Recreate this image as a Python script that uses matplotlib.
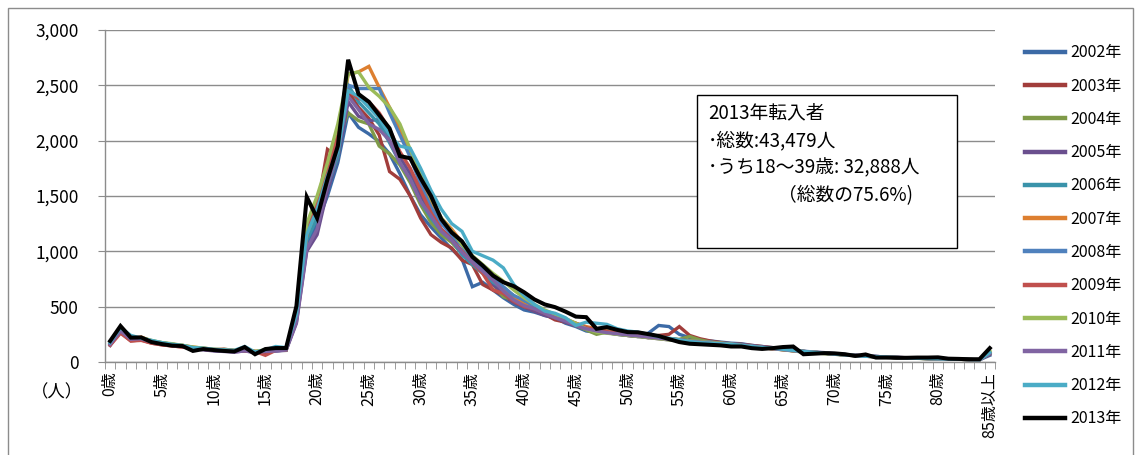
import matplotlib
matplotlib.use('Agg')
import matplotlib.pyplot as plt
from matplotlib.patches import Rectangle

plt.rcParams['font.family'] = ['Noto Sans CJK JP', 'DejaVu Sans']

# Age 0..84 plus "85 and over"
ages = list(range(86))
tick_pos = list(range(0, 86, 5))
tick_labels = [f'{a}歳' for a in range(0, 85, 5)] + ['85歳以上']

years = ['2002年', '2003年', '2004年', '2005年', '2006年', '2007年',
         '2008年', '2009年', '2010年', '2011年', '2012年', '2013年']
colors = ['#3c6aa6', '#a13d3b', '#7f9a48', '#6a4f8e', '#3a93aa', '#dd7f30',
          '#4f81bd', '#c0504d', '#9bbb59', '#8064a2', '#4bacc6', '#000000']

v2002 = [150, 290, 200, 210, 175, 160, 150, 140, 120, 115, 105, 100, 95, 110, 90, 95, 100, 110,
         380, 1050, 1250, 1500, 1800, 2250, 2120, 2060, 1990, 1880, 1700, 1500,
         1330, 1220, 1120, 1020, 930, 680, 720, 650, 580, 520, 470, 450, 420, 400, 350,
         320, 280, 270, 265, 250, 240, 230, 260, 330, 320, 250, 220, 200, 190, 180,
         170, 165, 150, 140, 130, 125, 110, 90, 85, 80, 70, 65, 60, 55, 50,
         45, 40, 38, 35, 33, 30, 28, 25, 22, 20, 60]
v2003 = [160, 270, 190, 200, 170, 155, 145, 135, 130, 115, 105, 110, 100, 100, 95, 80, 110, 110,
         400, 1200, 1380, 1920, 1850, 2450, 2300, 2200, 2050, 1720, 1650, 1500,
         1300, 1150, 1080, 1030, 920, 880, 700, 650, 600, 540, 500, 460, 430, 380, 360,
         330, 300, 280, 270, 255, 240, 235, 220, 240, 250, 320, 240, 210, 190, 175,
         165, 160, 150, 140, 130, 120, 110, 95, 85, 80, 72, 65, 60, 55, 50,
         45, 42, 38, 35, 32, 30, 28, 25, 22, 20, 70]
v2004 = [170, 280, 210, 220, 190, 175, 160, 150, 130, 125, 110, 115, 105, 100, 95, 100, 105, 105,
         390, 1150, 1350, 1700, 2000, 2250, 2180, 2150, 1950, 1880, 1780, 1620,
         1420, 1260, 1150, 1080, 980, 900, 820, 700, 590, 560, 520, 480, 440, 400, 370,
         330, 290, 250, 270, 260, 250, 235, 225, 215, 210, 205, 230, 200, 180, 170,
         160, 150, 140, 130, 120, 110, 100, 90, 85, 75, 70, 62, 58, 52, 48,
         44, 40, 36, 33, 30, 28, 26, 24, 22, 20, 90]
v2005 = [155, 275, 205, 215, 180, 165, 150, 140, 120, 110, 100, 95, 90, 100, 85, 95, 100, 105,
         350, 1000, 1150, 1550, 1850, 2350, 2220, 2180, 2190, 2000, 1850, 1700,
         1500, 1350, 1200, 1120, 1000, 920, 850, 700, 620, 540, 500, 460, 420, 400, 360,
         330, 300, 280, 265, 250, 240, 230, 220, 210, 200, 195, 190, 180, 175, 170,
         160, 155, 145, 135, 125, 115, 105, 95, 90, 85, 75, 68, 60, 55, 50,
         45, 42, 38, 35, 32, 30, 28, 25, 22, 20, 80]
v2006 = [165, 285, 215, 205, 185, 165, 155, 145, 125, 120, 110, 105, 100, 120, 90, 100, 115, 110,
         420, 1100, 1300, 1600, 1850, 2500, 2350, 2250, 2150, 1980, 1800, 1650,
         1450, 1300, 1180, 1100, 970, 880, 800, 720, 660, 600, 530, 490, 450, 420, 380,
         340, 310, 290, 280, 260, 245, 235, 225, 215, 210, 200, 190, 180, 170, 165,
         155, 150, 140, 130, 125, 115, 105, 95, 85, 80, 72, 65, 58, 52, 48,
         44, 40, 37, 34, 31, 29, 27, 25, 22, 20, 75]
v2007 = [175, 290, 210, 225, 190, 170, 160, 150, 135, 125, 115, 110, 100, 110, 95, 105, 110, 110,
         440, 1150, 1400, 1700, 2000, 2600, 2620, 2670, 2480, 2300, 2100, 1900,
         1650, 1450, 1300, 1200, 1080, 950, 850, 760, 650, 580, 520, 490, 460, 420, 390,
         350, 320, 300, 280, 270, 255, 240, 225, 215, 205, 195, 180, 170, 165, 160,
         150, 145, 135, 128, 120, 112, 102, 95, 88, 80, 72, 65, 58, 52, 48,
         44, 40, 37, 34, 31, 29, 27, 25, 22, 20, 80]
v2008 = [170, 300, 220, 215, 185, 170, 155, 145, 130, 120, 110, 105, 100, 115, 90, 100, 110, 115,
         450, 1200, 1400, 1700, 1950, 2500, 2470, 2470, 2470, 2250, 2050, 1850,
         1600, 1400, 1250, 1150, 1050, 920, 830, 750, 680, 600, 560, 500, 460, 420, 380,
         340, 300, 280, 270, 260, 250, 240, 230, 220, 210, 200, 190, 185, 180, 170,
         165, 155, 145, 135, 125, 118, 108, 98, 90, 82, 75, 68, 60, 55, 50,
         45, 42, 38, 35, 32, 30, 28, 25, 22, 20, 85]
v2009 = [150, 260, 190, 195, 170, 155, 145, 135, 120, 115, 110, 115, 105, 100, 95, 60, 105, 110,
         420, 1150, 1450, 1750, 2050, 2450, 2380, 2350, 2250, 2100, 1900, 1750,
         1550, 1350, 1200, 1100, 1000, 900, 800, 650, 620, 550, 500, 480, 440, 400, 380,
         350, 310, 290, 275, 260, 250, 240, 230, 220, 210, 200, 190, 180, 175, 170,
         160, 150, 140, 130, 120, 112, 102, 95, 88, 80, 72, 65, 58, 52, 48,
         44, 40, 37, 34, 31, 29, 27, 25, 22, 20, 80]
v2010 = [180, 295, 215, 220, 195, 175, 165, 150, 135, 125, 115, 110, 105, 115, 95, 110, 115, 120,
         460, 1250, 1500, 1800, 2150, 2600, 2620, 2480, 2400, 2300, 2150, 1920,
         1700, 1480, 1300, 1180, 1060, 960, 880, 800, 730, 650, 580, 520, 470, 430, 390,
         350, 300, 270, 260, 250, 240, 230, 220, 210, 200, 195, 190, 185, 175, 170,
         160, 150, 140, 130, 120, 112, 102, 95, 88, 80, 72, 65, 58, 52, 48,
         44, 40, 37, 34, 31, 29, 27, 25, 22, 20, 100]
v2011 = [160, 280, 205, 210, 180, 165, 150, 140, 120, 115, 105, 100, 90, 100, 88, 95, 100, 108,
         360, 1020, 1200, 1600, 1900, 2400, 2280, 2150, 2100, 2000, 1800, 1650,
         1450, 1320, 1180, 1100, 990, 900, 820, 740, 640, 560, 510, 480, 440, 400, 370,
         330, 300, 280, 265, 255, 245, 235, 225, 215, 205, 195, 185, 180, 170, 165,
         155, 150, 140, 130, 120, 112, 102, 95, 88, 80, 72, 65, 58, 52, 48,
         44, 40, 37, 34, 31, 29, 27, 25, 22, 20, 75]
v2012 = [175, 310, 240, 215, 195, 175, 160, 150, 130, 125, 115, 110, 105, 140, 90, 110, 140, 130,
         430, 1150, 1380, 1680, 1900, 2450, 2400, 2300, 2200, 2050, 1950, 1930,
         1750, 1550, 1380, 1250, 1180, 1000, 960, 920, 850, 700, 600, 520, 460, 440, 400,
         330, 360, 350, 340, 300, 280, 270, 250, 230, 215, 200, 185, 175, 170, 165,
         160, 150, 140, 130, 125, 115, 105, 95, 88, 80, 72, 65, 58, 52, 48,
         44, 40, 37, 34, 31, 29, 27, 25, 22, 20, 85]
v2013 = [190, 325, 220, 222, 180, 162, 148, 144, 100, 117, 108, 100, 95, 135, 70, 117, 126, 126,
         505, 1490, 1300, 1650, 1950, 2730, 2420, 2350, 2230, 2110, 1860, 1840,
         1660, 1500, 1290, 1170, 1090, 950, 870, 780, 720, 685, 630, 565, 520, 495, 455,
         410, 405, 300, 315, 290, 270, 268, 252, 235, 207, 180, 165, 160, 155, 150,
         140, 140, 125, 118, 125, 135, 140, 70, 75, 80, 78, 70, 55, 68, 40,
         40, 38, 38, 40, 40, 42, 30, 28, 25, 25, 125]

series = [v2002, v2003, v2004, v2005, v2006, v2007,
          v2008, v2009, v2010, v2011, v2012, v2013]

fig = plt.figure(figsize=(11.41, 4.55), dpi=100)
ax = fig.add_axes([0.092, 0.2044, 0.780, 0.730])

for name, vals, c in zip(years, series, colors):
    black = name == '2013年'
    ax.plot(ages, vals, color=c, lw=2.9 if black else 2.4, label=name,
            solid_joinstyle='miter', zorder=3 if black else 2)

ax.set_xlim(-0.5, 85.5)
ax.set_ylim(0, 3000)
ax.set_yticks(range(0, 3001, 500))
ax.set_yticklabels([f'{v:,}' for v in range(0, 3001, 500)], fontsize=12.5)
ax.yaxis.grid(True, color='#8c8c8c', lw=1.0)
ax.set_axisbelow(True)

ax.set_xticks(tick_pos)
ax.set_xticklabels(tick_labels, rotation=90, fontsize=11.5)
ax.set_xticks([i - 0.5 for i in range(87)], minor=True)
ax.tick_params(axis='x', which='major', length=0, pad=7)
ax.tick_params(axis='x', which='minor', length=5, color='#8c8c8c', direction='out')
ax.tick_params(axis='y', length=5, color='#8c8c8c', pad=14)

for s in ['top', 'right']:
    ax.spines[s].set_visible(False)
for s in ['left', 'bottom']:
    ax.spines[s].set_color('#8c8c8c')
    ax.spines[s].set_linewidth(1.0)

fig.text(0.050, 0.137, '（人）', fontsize=12.5, ha='center', va='center')

leg = ax.legend(loc='upper left', bbox_to_anchor=(1.018, 1.0), frameon=False,
                fontsize=11.5, handlelength=2.5, labelspacing=1.02, handletextpad=0.3)
for line in leg.get_lines():
    line.set_linewidth(3.2)

# summary box for 2013
box = Rectangle((697 / 1141, 1 - 248 / 455), 260 / 1141, 153 / 455,
                transform=fig.transFigure, facecolor='white', edgecolor='black',
                lw=1.0, zorder=5)
fig.patches.append(box)
lines = ['2013年転入者', '･総数:43,479人', '･うち18～39歳: 32,888人']
for k, t in enumerate(lines):
    fig.text(708 / 1141, 1 - (113 + 27.5 * k) / 455, t, fontsize=13.5,
             va='center', ha='left', zorder=6)
fig.text(778 / 1141, 1 - (113 + 27.5 * 3) / 455, '（総数の75.6%)', fontsize=13.5,
         va='center', ha='left', zorder=6)

# outer chart-area frame
frame = Rectangle((8 / 1141, -0.05), 1125 / 1141, 1.0 - 8 / 455 + 0.05,
                  transform=fig.transFigure, facecolor='none', edgecolor='#8c8c8c', lw=1.0)
fig.patches.append(frame)

fig.savefig('out.png', dpi=100)
